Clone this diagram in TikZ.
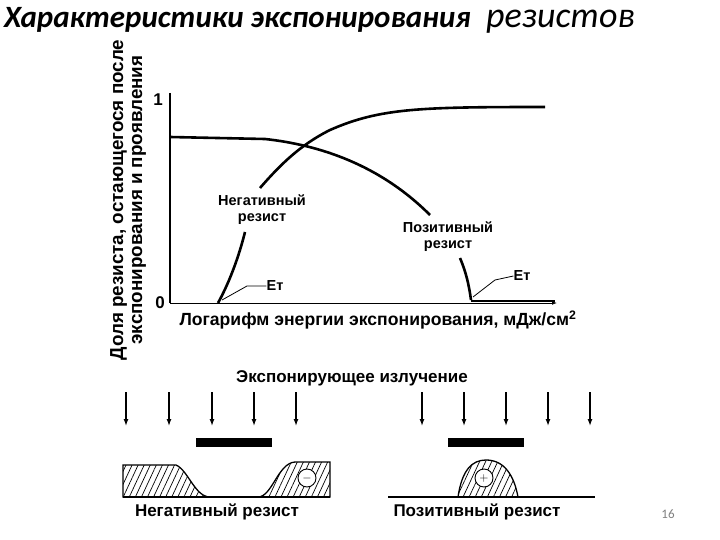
\documentclass[tikz,border=0pt]{standalone}
\usepackage{fontspec}
\setmainfont{Liberation Sans}
\newfontfamily\titlefont{Carlito}
\usetikzlibrary{patterns.meta,arrows.meta}
\begin{document}
\begin{tikzpicture}[x=1pt,y=-1pt,
  curve/.style={line width=2.6pt},
  thin/.style={line width=0.8pt},
  lbl/.style={font=\bfseries\fontsize{14.5}{16}\selectfont, align=center, inner sep=0pt},
  ray/.style={line width=1.3pt,-{Latex[length=7pt,width=5pt]}},
  prof/.style={line width=1.3pt, pattern={Lines[angle=65,distance=5.5pt,line width=0.7pt]}}]
\useasboundingbox (0,0) rectangle (720,540);
\node[anchor=west,inner sep=0] (title) at (4,20) {\titlefont\itshape\fontsize{31}{32}\selectfont\textbf{Характеристики экспонирования}\enspace\fontsize{36}{36}\selectfont резистов};
% axes
\coordinate (o) at (170,303);
\coordinate (ytop) at (170,93);
\coordinate (xend) at (557,303);
\draw[line width=1.4pt] (ytop) -- (o);
\draw[thin,-{Latex[length=5pt]}] (o) -- (xend);
\node[lbl,font=\bfseries\fontsize{17}{17}\selectfont] (one) at (158,100) {1};
\node[lbl,font=\bfseries\fontsize{17}{17}\selectfont] (zero) at (160,303) {0};
\node[lbl,font=\bfseries\fontsize{17.6}{18}\selectfont] (xl) at (378,320) {Логарифм энергии экспонирования, мДж/см\textsuperscript{2}};
\node[lbl,rotate=90,font=\bfseries\fontsize{18.8}{19}\selectfont] (yl) at (128,200) {Доля резиста, остающегося после\\экспонирования и проявления};
% negative curve
\draw[curve] (218,303) .. controls (228,285) and (238,260) .. (245,232);
\draw[curve] (260,188) .. controls (280,165) and (300,145) .. (330,130) .. controls (380,108) and (420,107) .. (545,107);
% positive curve
\draw[curve] (170,137) -- (265,139) .. controls (320,145) and (380,165) .. (430,215);
\draw[curve] (460,258) .. controls (466,272) and (469,285) .. (471,300);
\draw[line width=1.6pt] (471,301) -- (555,301);
\node[lbl] (neg) at (262,210) {Негативный\\резист};
\node[lbl] (pos) at (448,237) {Позитивный\\резист};
\node[lbl] (et1) at (275,286) {Eт};
\node[lbl] (et2) at (522,276) {Eт};
\coordinate (e1) at (222,300);
\coordinate (e2) at (473,297);
\draw[thin] (e1) -- (247,286) -- (et1.west);
\draw[thin] (e2) -- (495,280) -- (et2.west);
% bottom
\node[lbl,font=\bfseries\fontsize{17}{17}\selectfont] (rad) at (352,378) {Экспонирующее излучение};
\foreach \x in {126,169,212,254,296,422,464,506,548,590}
  \draw[ray] (\x,392) -- (\x,426);
\fill (196,438) rectangle (272,447);
\fill (448,438) rectangle (524,447);
% negative profile
\draw[prof] (123,497) -- (123,465) -- (176,465) .. controls (188,470) and (195,497) .. (210,497) -- cycle;
\draw[prof] (258,497) .. controls (272,497) and (278,463) .. (295,462) -- (330,462) -- (330,497) -- cycle;
\draw[line width=1.3pt] (123,497) -- (330,497);
\node[circle,draw,fill=white,line width=0.9pt,minimum size=18pt,inner sep=0,font=\bfseries\large] (m) at (307,478) {$-$};
% positive profile
\draw[prof] (458,497) .. controls (462,470) and (472,460) .. (486,460) .. controls (504,460) and (514,475) .. (518,497) -- cycle;
\draw[line width=1.3pt] (388,497) -- (595,497);
\node[circle,draw,fill=white,line width=0.9pt,minimum size=18pt,inner sep=0,font=\bfseries\large] (p) at (484,478) {$+$};
\node[lbl,font=\bfseries\fontsize{17}{17}\selectfont] (nl) at (217,512) {Негативный резист};
\node[lbl,font=\bfseries\fontsize{17}{17}\selectfont] (pl) at (477,512) {Позитивный резист};
\node[text=gray,font=\fontsize{13}{13}\selectfont\titlefont] (pg) at (668,514) {16};
\end{tikzpicture}
\end{document}
